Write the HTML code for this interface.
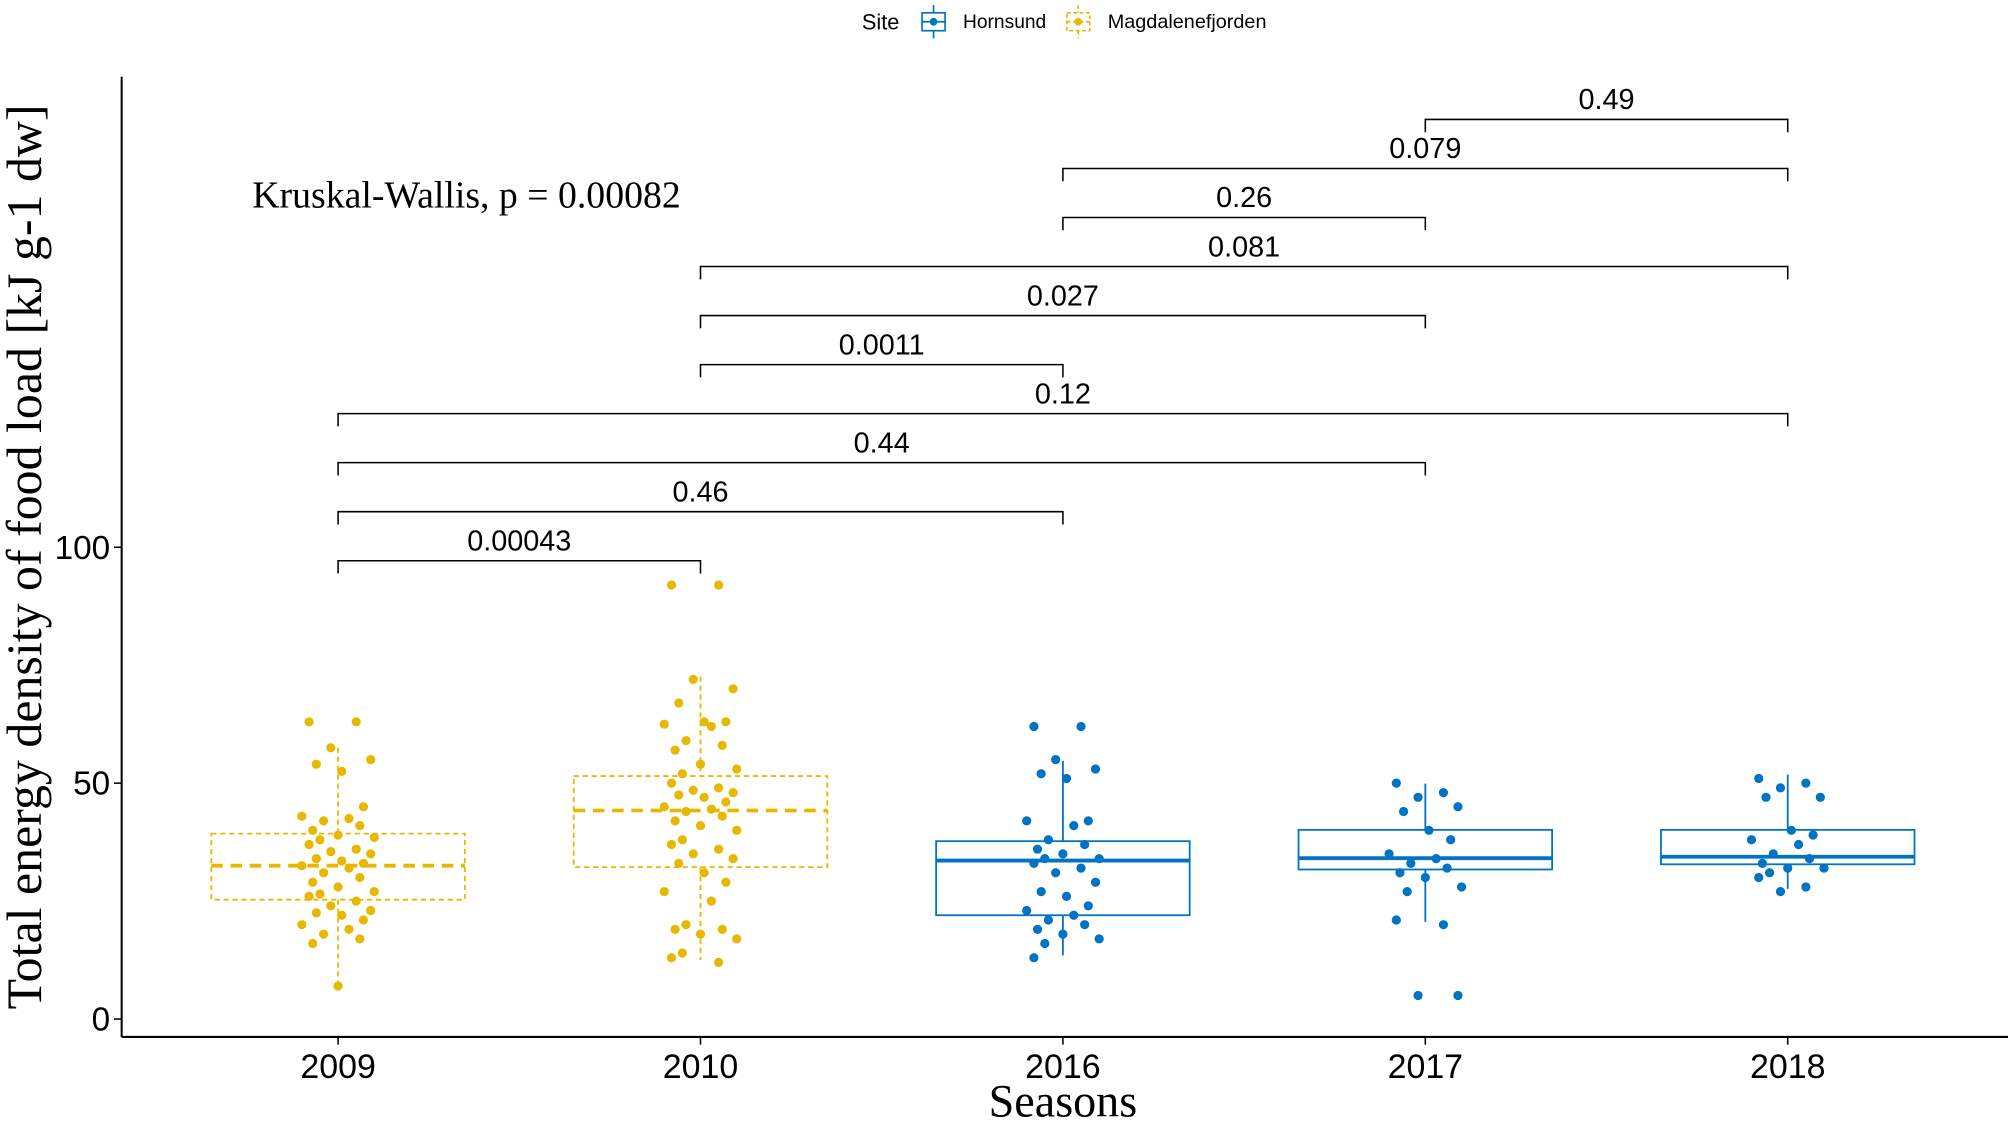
<!DOCTYPE html>
<html><head><meta charset="utf-8"><style>
html,body{margin:0;padding:0;background:#fff;}
svg{display:block;}
text{font-family:"Liberation Sans",Arial,sans-serif;}
.serif{font-family:"Liberation Serif","Times New Roman",serif;}
</style></head><body>
<svg id="chart" width="2008" height="1124" viewBox="0 0 1568 878" preserveAspectRatio="none" xmlns="http://www.w3.org/2000/svg">
<g>
  <text x="673" y="23" font-size="17">Site</text>
  <g>
    <line x1="729" y1="4" x2="729" y2="30" stroke="#0073C2" stroke-width="1.3"/>
    <rect x="720" y="10" width="18" height="14" fill="#fff" stroke="#0073C2" stroke-width="1.3"/>
    <line x1="720" y1="17" x2="738" y2="17" stroke="#0073C2" stroke-width="1.3"/>
    <circle cx="729" cy="17" r="3" fill="#0073C2"/>
    <text x="752" y="22" font-size="15">Hornsund</text>
  </g>
  <g>
    <line x1="842" y1="4" x2="842" y2="30" stroke="#E7B800" stroke-width="1.3" stroke-dasharray="3,2"/>
    <rect x="833" y="10" width="18" height="14" fill="#fff" stroke="#E7B800" stroke-width="1.3" stroke-dasharray="3,2"/>
    <line x1="833" y1="17" x2="851" y2="17" stroke="#E7B800" stroke-width="1.3" stroke-dasharray="3,2"/>
    <circle cx="842" cy="17" r="3" fill="#E7B800"/>
    <text x="865" y="22" font-size="15.5">Magdalenefjorden</text>
  </g>
</g>
<g id="plot"></g>
<text class="serif" x="197" y="162" font-size="29.5">Kruskal-Wallis, p = 0.00082</text>
<text class="serif" x="830" y="872" font-size="36" text-anchor="middle">Seasons</text>
<text class="serif" transform="translate(32,435) rotate(-90)" font-size="39" text-anchor="middle">Total energy density of food load [kJ g-1 dw]</text>
</svg>
<script>
const categories = ["2009","2010","2016","2017","2018"];
const sites = ["Magdalenefjorden","Magdalenefjorden","Hornsund","Hornsund","Hornsund"];
const q1 = [25.3, 32.2, 22.0, 31.7, 32.8];
const medians = [32.5, 44.2, 33.6, 34.1, 34.4];
const q3 = [39.3, 51.5, 37.7, 40.1, 40.1];
const whiskerLow = [7.6, 12.5, 13.5, 20.6, 27.6];
const whiskerHigh = [57.5, 72.6, 54.7, 49.9, 51.8];
const points2009 = [63,63,57.5,55,54,52.5,45,43,42.5,42,41,40,39,38.5,38,37,36,35.5,35,34,33.5,33,32.5,32,31,30,29,28,27,26.5,26,25,24,23,22.5,22,21,20,19,18,17,16,7];
const points2010 = [92,92,72,70,67,63,63,62.5,62,59,58,57,54,53,52,50,49,48.5,48,47.5,47,46,45,44.5,44,43,42,41,40,38,37,36,35,34,33,31,29,27,25,20,19,19,18,17,14,13,12];
const points2016 = [62,62,55,53,52,51,42,42,41,38,37,36,35,34,34,33,32,31,29,27,26,24,23,22,21,20,19,18,17,16,13];
const points2017 = [50,48,47,45,44,40,38,35,34,33,32,31,30,28,27,21,20,5,5];
const points2018 = [51,50,49,47,47,40,39,38,37,35,34,33,32,32,31,30,28,27];
const allPoints = [points2009, points2010, points2016, points2017, points2018];
const yTicks = [0, 50, 100];
const comparisonsFrom = [0,0,0,0,1,1,1,2,2,3];
const comparisonsTo = [1,2,3,4,2,3,4,3,4,4];
const comparisonLabels = ["0.00043","0.46","0.44","0.12","0.0011","0.027","0.081","0.26","0.079","0.49"];
const comparisonLevel = [0,1,2,3,4,5,6,7,8,9];

const colors = {Magdalenefjorden:"#E7B800", Hornsund:"#0073C2"};
const X = i => 264 + i*283;
const Y = v => 796 - v*3.685;
const bracketY = l => 438 - l*38.3;
const jitter = [-0.08,0.05,-0.02,0.09,-0.06,0.01,0.07,-0.1,0.03,-0.04,0.06,-0.07,0.0,0.1,-0.05];
const NS = "http://www.w3.org/2000/svg";
const plot = document.getElementById("plot");
function mk(tag, attrs, parent){
  const e = document.createElementNS(NS, tag);
  for (const k in attrs) e.setAttribute(k, attrs[k]);
  (parent||plot).appendChild(e);
  return e;
}
const ax = mk("line",{x1:95,y1:60,x2:95,y2:810,stroke:"#000","stroke-width":1.6});


const bx = mk("line",{x1:95,y1:810,x2:1568,y2:810,stroke:"#000","stroke-width":1.6});


yTicks.forEach(t=>{
  mk("line",{x1:89,x2:95,y1:Y(t),y2:Y(t),stroke:"#000","stroke-width":1.2});
  const tx = mk("text",{x:86,y:Y(t)+9,"font-size":26,"text-anchor":"end"});
  tx.textContent = t;
  
  
});
categories.forEach((c,i)=>{
  mk("line",{x1:X(i),x2:X(i),y1:810,y2:816,stroke:"#000","stroke-width":1.2});
  const tx = mk("text",{x:X(i),y:842,"font-size":26.5,"text-anchor":"middle"});
  tx.textContent = c;
  
  
});
categories.forEach((c,i)=>{
  const col = colors[sites[i]];
  const dash = sites[i]==="Magdalenefjorden" ? "4,3" : "none";
  const g = mk("g",{});
  
  
  mk("line",{x1:X(i),x2:X(i),y1:Y(whiskerHigh[i]),y2:Y(q3[i]),stroke:col,"stroke-width":1.4,"stroke-dasharray":dash},g);
  mk("line",{x1:X(i),x2:X(i),y1:Y(q1[i]),y2:Y(whiskerLow[i]),stroke:col,"stroke-width":1.4,"stroke-dasharray":dash},g);
  mk("rect",{x:X(i)-99,y:Y(q3[i]),width:198,height:Y(q1[i])-Y(q3[i]),fill:"none",stroke:col,"stroke-width":1.4,"stroke-dasharray":dash},g);
  mk("line",{x1:X(i)-99,x2:X(i)+99,y1:Y(medians[i]),y2:Y(medians[i]),stroke:col,"stroke-width":3,"stroke-dasharray":sites[i]==="Magdalenefjorden"?"9,6":"none"},g);
  allPoints[i].forEach((v,k)=>{
    const p = mk("circle",{cx:X(i)+jitter[k%jitter.length]*283,cy:Y(v),r:3.6,fill:col},g);
    
    
  });
});
comparisonLabels.forEach((lab,j)=>{
  const y = bracketY(comparisonLevel[j]);
  const x1 = X(comparisonsFrom[j]), x2 = X(comparisonsTo[j]);
  const g = mk("g",{});
  
  
  mk("path",{d:`M${x1},${y+10}V${y}H${x2}V${y+10}`,fill:"none",stroke:"#000","stroke-width":1.2},g);
  const t = mk("text",{x:(x1+x2)/2,y:y-8,"font-size":22.5,"text-anchor":"middle"},g);
  t.textContent = lab;
});
</script>
</body></html>
